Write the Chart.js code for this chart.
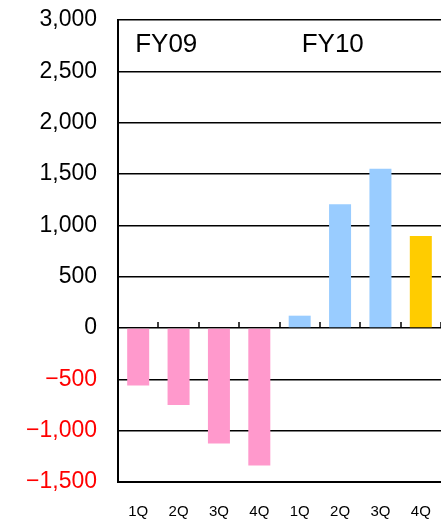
<!DOCTYPE html>
<html>
<head>
<meta charset="utf-8">
<script src="https://cdn.jsdelivr.net/npm/chart.js@4"></script>
<style>
  html, body { margin: 0; padding: 0; background: #fff; }
  #chart { display: block; }
</style>
</head>
<body>
<canvas id="chart" width="441" height="519"></canvas>
<script>
// quarters FY09 + FY10
const labels = ["1Q", "2Q", "3Q", "4Q", "1Q", "2Q", "3Q", "4Q"];
const values = [-560, -750, -1125, -1340, 120, 1205, 1550, 895];
const barColors = ["#FF99CC", "#FF99CC", "#FF99CC", "#FF99CC", "#99CCFF", "#99CCFF", "#99CCFF", "#FFCC00"];
const yTicks = [3000, 2500, 2000, 1500, 1000, 500, 0, -500, -1000, -1500];
const yearLabels = ["FY09", "FY10"];

// FY labels + little ticks on the zero line
const extras = {
  id: "extras",
  afterDatasetsDraw(chart) {
    const { ctx, scales: { x, y } } = chart;
    const zero = y.getPixelForValue(0);
    const half = (x.getPixelForValue(1) - x.getPixelForValue(0)) / 2;
    ctx.save();
    ctx.strokeStyle = "#000";
    ctx.lineWidth = 1.5;
    for (let i = 1; i <= labels.length; i++) {
      const px = Math.round(x.getPixelForValue(i) - half);
      ctx.beginPath();
      ctx.moveTo(px, zero - 6);
      ctx.lineTo(px, zero);
      ctx.stroke();
    }
    ctx.fillStyle = "#000";
    ctx.font = "26px 'Liberation Sans', Arial, sans-serif";
    ctx.textBaseline = "alphabetic";
    ctx.textAlign = "left";
    const ty = y.getPixelForValue(2690);
    ctx.fillText(yearLabels[0], x.getPixelForValue(0) - 3, ty);
    ctx.fillText(yearLabels[1], x.getPixelForValue(4) + 2, ty);
    ctx.restore();
  }
};

new Chart(document.getElementById("chart"), {
  type: "bar",
  data: {
    labels,
    datasets: [{
      data: values,
      backgroundColor: barColors,
      borderWidth: 0,
      barPercentage: 0.545,
      categoryPercentage: 1
    }]
  },
  options: {
    responsive: false,
    animation: false,
    layout: { padding: { top: 20, right: -1, left: 0, bottom: 0 } },
    plugins: { legend: { display: false }, tooltip: { enabled: false } },
    scales: {
      x: {
        grid: { display: false, drawTicks: false },
        border: { display: true, color: "#000", width: 2 },
        ticks: {
          color: "#000",
          padding: 21,
          font: { size: 15, family: "'Liberation Sans', Arial, sans-serif" }
        },
        afterFit(scale) {
          scale.height = 37;
          scale.paddingLeft = 0;
          scale.paddingRight = 0;
        }
      },
      y: {
        min: -1500,
        max: 3000,
        afterBuildTicks(scale) { scale.ticks = yTicks.map(v => ({ value: v })); },
        grid: { color: "#000", lineWidth: 1.5, drawTicks: false },
        border: { display: true, color: "#000", width: 2 },
        ticks: {
          padding: 21,
          color: ctx => (ctx.tick.value < 0 ? "#FF0000" : "#000"),
          font: { size: 23, family: "'Liberation Sans', Arial, sans-serif" },
          callback: v => (v < 0 ? "\u2212" : "") + Math.abs(v).toLocaleString("en-US")
        },
        afterFit(scale) {
          scale.width = 118;
          scale.paddingTop = 0;
          scale.paddingBottom = 0;
        }
      }
    }
  },
  plugins: [extras]
});
</script>
</body>
</html>
